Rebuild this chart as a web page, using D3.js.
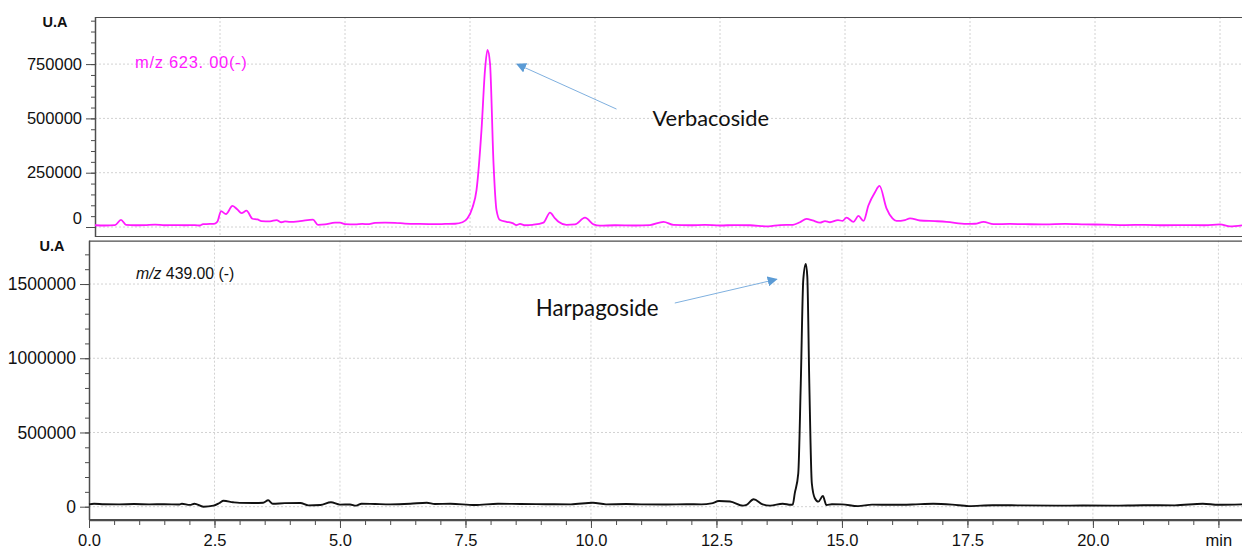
<!DOCTYPE html>
<html><head><meta charset="utf-8">
<script src="https://cdn.jsdelivr.net/npm/d3@7"></script>
<style>
html,body{margin:0;padding:0;background:#fff;}
svg{display:block;font-family:"Liberation Sans",Arial,sans-serif;}
</style></head>
<body><svg id="c" width="1242" height="548"></svg>
<script>
// ---- data ----
const verbTimes = [0.0,0.2,0.4,0.52,0.62,0.8,1.0,1.2,1.4,1.6,1.8,2.0,2.1,2.16,2.3,2.4,2.45,2.52,2.62,2.75,2.85,2.93,3.03,3.15,3.25,3.33,3.5,3.63,3.73,3.8,3.9,4.1,4.36,4.46,4.6,4.8,4.9,5.0,5.2,5.35,5.45,5.6,5.8,6.0,6.2,6.5,6.8,7.0,7.2,7.35,7.45,7.55,7.63,7.73,7.8,7.85,7.9,7.97,8.03,8.1,8.23,8.35,8.43,8.5,8.6,8.75,8.97,9.1,9.2,9.27,9.43,9.6,9.8,9.97,10.1,10.4,10.8,11.1,11.37,11.57,11.9,12.2,12.5,12.8,13.1,13.47,13.7,13.96,14.1,14.23,14.35,14.5,14.6,14.7,14.86,14.95,15.03,15.17,15.27,15.37,15.47,15.6,15.69,15.83,15.95,16.03,16.2,16.3,16.5,16.8,17.03,17.43,17.6,17.77,17.97,18.3,18.6,19.0,19.4,19.8,20.2,20.6,21.0,21.4,21.8,22.2,22.5,22.7,22.94];
const verbValues = [8000,7000,9000,33000,10000,8000,9000,11000,8000,9000,8000,9000,7000,13000,14000,16000,25000,73000,60000,97000,80000,64000,75000,38000,35000,27000,26000,32000,22000,26000,24000,27000,34000,10000,12000,20000,20000,13000,12000,14000,13000,19000,20000,19000,16000,14000,13000,14000,15000,22000,40000,90000,170000,447000,723000,815000,754000,295000,78000,32000,24000,18000,9000,14000,8000,10000,20000,66000,40000,24000,10000,12000,43000,12000,6000,8000,7000,9000,24000,10000,8000,10000,7000,9000,8000,3000,9000,10000,22000,37000,30000,20000,27000,22000,32000,28000,43000,24000,51000,28000,100000,160000,189000,86000,40000,28000,32000,40000,30000,27000,24000,14000,15000,24000,13000,14000,13000,12000,14000,12000,11000,9000,10000,8000,9000,8000,12000,3000,8000];

const harpTimes = [0.0,0.1,0.3,0.6,0.9,1.2,1.5,1.8,1.85,2.01,2.1,2.28,2.48,2.6,2.68,2.87,3.0,3.27,3.47,3.57,3.66,3.9,4.21,4.37,4.61,4.82,5.0,5.2,5.32,5.43,5.7,6.0,6.4,6.73,6.89,7.2,7.68,8.15,8.6,9.1,9.6,10.04,10.3,10.7,11.0,11.5,11.9,12.2,12.4,12.55,12.77,13.03,13.1,13.24,13.42,13.57,13.82,13.98,14.02,14.06,14.13,14.18,14.23,14.28,14.31,14.35,14.40,14.46,14.53,14.62,14.69,14.8,15.0,15.32,15.6,16.0,16.4,16.82,17.2,17.53,18.0,18.5,19.26,19.8,20.4,21.0,21.63,22.19,22.5,22.97];
const harpValues = [16000,20000,17000,16000,18000,16000,17000,15000,20000,12000,20000,0,7000,25000,40000,30000,26000,25000,27000,43000,20000,24000,25000,9000,11000,30000,14000,15000,7000,20000,18000,16000,20000,27000,18000,20000,11000,20000,18000,17000,16000,27000,16000,18000,16000,15000,17000,16000,22000,38000,35000,7000,12000,50000,16000,7000,20000,13000,15000,90000,225000,831000,1530000,1635000,1550000,831000,158000,57000,34000,72000,11000,17000,16000,4000,14000,13000,15000,20000,14000,4000,10000,9000,7000,8000,7000,10000,9000,20000,13000,16000];

const xMajor = [0,2.5,5,7.5,10,12.5,15,17.5,20,22.5];
const xTickLabels = ["0.0","2.5","5.0","7.5","10.0","12.5","15.0","17.5","20.0","min"];
const topYMajor = [0,250000,500000,750000];
const botYMajor = [0,500000,1000000,1500000];
const topLabel = "m/z 623. 00(-)";
const botLabelItalic = "m/z";
const botLabelRest = " 439.00 (-)";
const verbName = "Verbacoside";
const harpName = "Harpagoside";
const yUnit = "U.A";

// ---- layout ----
const svg = d3.select("#c");
const frame = "#4d4d4d", grid = "#d2d2d2";

const xTop = d3.scaleLinear().domain([0,22.94]).range([95,1242]);
const yTop = d3.scaleLinear().domain([-46000,966850]).range([237,17]);
const xBot = d3.scaleLinear().domain([0,22.97]).range([89,1242]);
const yBot = d3.scaleLinear().domain([-89600,1792000]).range([520,240.7]);

function range(a,b,s){const r=[];for(let v=a;v<=b+1e-9;v+=s)r.push(+v.toFixed(6));return r;}

function panel(x,y,yMajor,yMinorStep,labelFmt){
  const [x0,x1]=x.range(), [y0,y1]=y.range();
  const g=svg.append("g");
  g.selectAll(".vg").data(xMajor.filter(d=>d>0)).join("line")
   .attr("x1",d=>x(d)).attr("x2",d=>x(d)).attr("y1",y1).attr("y2",y0)
   .attr("stroke",grid).attr("stroke-dasharray","2,2").attr("stroke-width",1);
  g.selectAll(".hg").data(yMajor).join("line")
   .attr("x1",x0).attr("x2",x1).attr("y1",d=>y(d)).attr("y2",d=>y(d))
   .attr("stroke",grid).attr("stroke-dasharray","2,2").attr("stroke-width",1);
  g.append("line").attr("x1",x0).attr("x2",x1).attr("y1",y1+0.5).attr("y2",y1+0.5).attr("stroke",frame).attr("stroke-width",1.2);
  g.append("line").attr("x1",x0).attr("x2",x1).attr("y1",y0-0.5).attr("y2",y0-0.5).attr("stroke",frame).attr("stroke-width",1.2);
  const yDom=y.domain();
  const minors=range(Math.ceil(yDom[0]/yMinorStep)*yMinorStep, yDom[1], yMinorStep).filter(v=>y(v)>=y1&&y(v)<=y0);
  const gm=g.append("g").attr("transform",`translate(${x0},0)`)
    .call(d3.axisLeft(y).tickValues(minors).tickSize(4).tickFormat(""));
  gm.select(".domain").remove();
  gm.selectAll("line").attr("stroke",frame);
  const ga=g.append("g").attr("transform",`translate(${x0},0)`)
    .call(d3.axisLeft(y).tickValues(yMajor).tickSize(9).tickPadding(4).tickFormat(d3.format("d")).tickSizeOuter(0));
  ga.select(".domain").attr("stroke",frame).attr("stroke-width",1.5).attr("d",`M0.5,${y1}V${y0}`);
  ga.selectAll("line").attr("stroke",frame);
  ga.selectAll("text").attr("fill","#111").style("font-size",labelFmt.size+"px").style("font-family","'Liberation Sans',Arial,sans-serif");
  return {g,ga};
}

const topP = panel(xTop,yTop,topYMajor,50000,{size:16.5});
// the "0" label in the original sits a little above its tick
topP.ga.selectAll(".tick").filter(d=>d===0).select("text").attr("dy","-0.2em");
const botP = panel(xBot,yBot,botYMajor,100000,{size:17.5});

const gxMin = svg.append("g").attr("transform","translate(0,520)")
  .call(d3.axisBottom(xBot).tickValues(range(0,22.5,0.5)).tickSize(5).tickFormat(""));
gxMin.select(".domain").remove(); gxMin.selectAll("line").attr("stroke",frame);
const gx = svg.append("g").attr("transform","translate(0,520)")
  .call(d3.axisBottom(xBot).tickValues(xMajor).tickSize(8).tickPadding(6).tickSizeOuter(0)
    .tickFormat((d,i)=>xTickLabels[i]));
gx.select(".domain").attr("stroke",frame).attr("stroke-width",1.5);
gx.selectAll("line").attr("stroke",frame);
gx.selectAll("text").attr("fill","#111").style("font-size","16.5px").style("font-family","'Liberation Sans',Arial,sans-serif");

svg.append("text").attr("x",55).attr("y",27).attr("text-anchor","middle").attr("font-weight","bold").attr("font-size",14.5).attr("fill","#111").text(yUnit);
svg.append("text").attr("x",52).attr("y",251).attr("text-anchor","middle").attr("font-weight","bold").attr("font-size",14.5).attr("fill","#111").text(yUnit);

const line=(x,y)=>d3.line().x(d=>x(d[0])).y(d=>y(d[1])).curve(d3.curveMonotoneX);
svg.append("path").datum(verbTimes.map((t,i)=>[t,verbValues[i]]))
  .attr("d",line(xTop,yTop)).attr("fill","none").attr("stroke","#ff1aff").attr("stroke-width",1.8).attr("stroke-linejoin","round");
svg.append("path").datum(harpTimes.map((t,i)=>[t,harpValues[i]]))
  .attr("d",line(xBot,yBot)).attr("fill","none").attr("stroke","#111").attr("stroke-width",1.9).attr("stroke-linejoin","round");

svg.append("text").attr("x",135).attr("y",68).attr("fill","#ff1aff").attr("font-size",16.5).attr("letter-spacing","0.7px").text(topLabel);
const bl=svg.append("text").attr("x",136).attr("y",279).attr("fill","#111").attr("font-size",15.8);
bl.append("tspan").attr("font-style","italic").text(botLabelItalic);
bl.append("tspan").text(botLabelRest);

const defs=svg.append("defs");
defs.append("marker").attr("id","ah").attr("viewBox","0 0 10 10").attr("refX",9).attr("refY",5)
  .attr("markerWidth",10).attr("markerHeight",10).attr("markerUnits","userSpaceOnUse").attr("orient","auto")
  .append("path").attr("d","M0,0L10,5L0,10z").attr("fill","#5b9bd5");
svg.append("line").attr("x1",xTop(10.43)).attr("y1",yTop(543000)).attr("x2",xTop(8.44)).attr("y2",yTop(750000))
  .attr("stroke","#7fb0df").attr("stroke-width",1).attr("marker-end","url(#ah)");
svg.append("line").attr("x1",xBot(11.67)).attr("y1",yBot(1372000)).attr("x2",xBot(13.7)).attr("y2",yBot(1532000))
  .attr("stroke","#7fb0df").attr("stroke-width",1).attr("marker-end","url(#ah)");
svg.append("text").attr("x",xTop(11.15)).attr("y",126).attr("font-family","Lato,'Open Sans',sans-serif").attr("font-size",21.8).attr("fill","#111").text(verbName);
svg.append("text").attr("x",xBot(8.9)).attr("y",316).attr("font-family","Lato,'Open Sans',sans-serif").attr("font-size",22.3).attr("fill","#111").text(harpName);
</script></body></html>
